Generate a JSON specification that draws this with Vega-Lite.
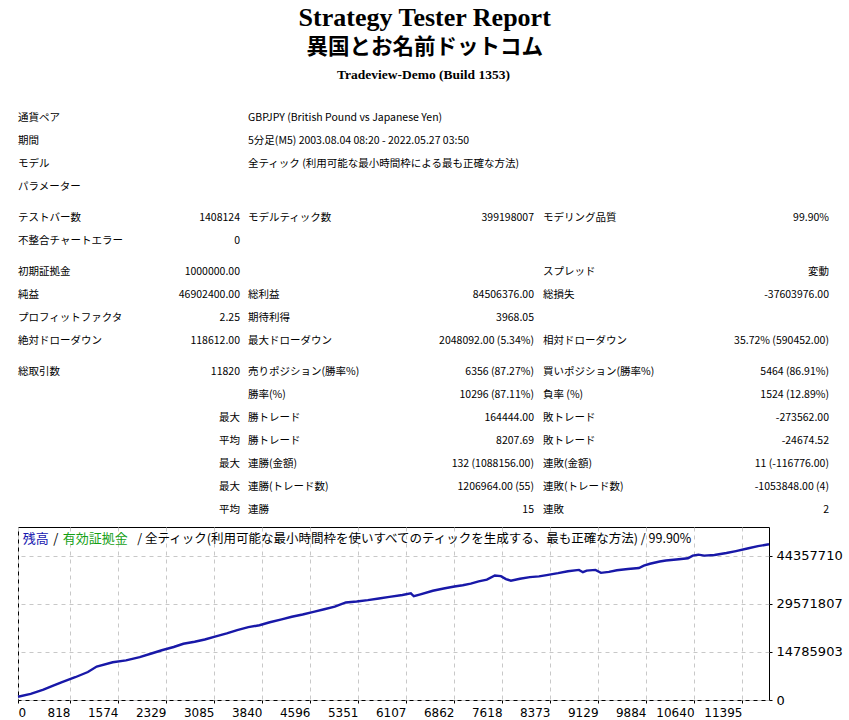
{
  "$schema": "https://vega.github.io/schema/vega-lite/v6.json",
  "background": "white",
  "padding": {"left": 12, "top": 5, "right": 4, "bottom": 0},
  "title": {
    "text": "Strategy Tester Report",
    "subtitle": "異国とお名前ドットコム",
    "font": "Liberation Serif",
    "fontSize": 26,
    "fontWeight": "bold",
    "color": "#000",
    "subtitleFont": "Noto Sans CJK JP",
    "subtitleFontSize": 21.5,
    "subtitleFontWeight": "bold",
    "subtitleColor": "#000",
    "subtitlePadding": 6,
    "anchor": "middle",
    "dx": -3,
    "offset": 9
  },
  "config": {
    "font": "Noto Sans CJK JP",
    "view": {"stroke": null},
    "concat": {"spacing": 5}
  },
  "datasets": {
    "report": [
      {"section": "A", "row": 1, "col": 0, "text": "通貨ペア"},
      {"section": "A", "row": 1, "col": 2, "text": "GBPJPY (British Pound vs Japanese Yen)"},
      {"section": "A", "row": 2, "col": 0, "text": "期間"},
      {"section": "A", "row": 2, "col": 2, "text": "5分足(M5) 2003.08.04 08:20 - 2022.05.27 03:50"},
      {"section": "A", "row": 3, "col": 0, "text": "モデル"},
      {"section": "A", "row": 3, "col": 2, "text": "全ティック (利用可能な最小時間枠による最も正確な方法)"},
      {"section": "A", "row": 4, "col": 0, "text": "パラメーター"},
      {"section": "B", "row": 5, "col": 0, "text": "テストバー数"},
      {"section": "B", "row": 5, "col": 1, "text": "1408124"},
      {"section": "B", "row": 5, "col": 2, "text": "モデルティック数"},
      {"section": "B", "row": 5, "col": 3, "text": "399198007"},
      {"section": "B", "row": 5, "col": 4, "text": "モデリング品質"},
      {"section": "B", "row": 5, "col": 5, "text": "99.90%"},
      {"section": "B", "row": 6, "col": 0, "text": "不整合チャートエラー"},
      {"section": "B", "row": 6, "col": 1, "text": "0"},
      {"section": "C", "row": 7, "col": 0, "text": "初期証拠金"},
      {"section": "C", "row": 7, "col": 1, "text": "1000000.00"},
      {"section": "C", "row": 7, "col": 4, "text": "スプレッド"},
      {"section": "C", "row": 7, "col": 5, "text": "変動"},
      {"section": "C", "row": 8, "col": 0, "text": "純益"},
      {"section": "C", "row": 8, "col": 1, "text": "46902400.00"},
      {"section": "C", "row": 8, "col": 2, "text": "総利益"},
      {"section": "C", "row": 8, "col": 3, "text": "84506376.00"},
      {"section": "C", "row": 8, "col": 4, "text": "総損失"},
      {"section": "C", "row": 8, "col": 5, "text": "-37603976.00"},
      {"section": "C", "row": 9, "col": 0, "text": "プロフィットファクタ"},
      {"section": "C", "row": 9, "col": 1, "text": "2.25"},
      {"section": "C", "row": 9, "col": 2, "text": "期待利得"},
      {"section": "C", "row": 9, "col": 3, "text": "3968.05"},
      {"section": "C", "row": 10, "col": 0, "text": "絶対ドローダウン"},
      {"section": "C", "row": 10, "col": 1, "text": "118612.00"},
      {"section": "C", "row": 10, "col": 2, "text": "最大ドローダウン"},
      {"section": "C", "row": 10, "col": 3, "text": "2048092.00 (5.34%)"},
      {"section": "C", "row": 10, "col": 4, "text": "相対ドローダウン"},
      {"section": "C", "row": 10, "col": 5, "text": "35.72% (590452.00)"},
      {"section": "D", "row": 11, "col": 0, "text": "総取引数"},
      {"section": "D", "row": 11, "col": 1, "text": "11820"},
      {"section": "D", "row": 11, "col": 2, "text": "売りポジション(勝率%)"},
      {"section": "D", "row": 11, "col": 3, "text": "6356 (87.27%)"},
      {"section": "D", "row": 11, "col": 4, "text": "買いポジション(勝率%)"},
      {"section": "D", "row": 11, "col": 5, "text": "5464 (86.91%)"},
      {"section": "D", "row": 12, "col": 2, "text": "勝率(%)"},
      {"section": "D", "row": 12, "col": 3, "text": "10296 (87.11%)"},
      {"section": "D", "row": 12, "col": 4, "text": "負率 (%)"},
      {"section": "D", "row": 12, "col": 5, "text": "1524 (12.89%)"},
      {"section": "D", "row": 13, "col": 1, "text": "最大"},
      {"section": "D", "row": 13, "col": 2, "text": "勝トレード"},
      {"section": "D", "row": 13, "col": 3, "text": "164444.00"},
      {"section": "D", "row": 13, "col": 4, "text": "敗トレード"},
      {"section": "D", "row": 13, "col": 5, "text": "-273562.00"},
      {"section": "D", "row": 14, "col": 1, "text": "平均"},
      {"section": "D", "row": 14, "col": 2, "text": "勝トレード"},
      {"section": "D", "row": 14, "col": 3, "text": "8207.69"},
      {"section": "D", "row": 14, "col": 4, "text": "敗トレード"},
      {"section": "D", "row": 14, "col": 5, "text": "-24674.52"},
      {"section": "D", "row": 15, "col": 1, "text": "最大"},
      {"section": "D", "row": 15, "col": 2, "text": "連勝(金額)"},
      {"section": "D", "row": 15, "col": 3, "text": "132 (1088156.00)"},
      {"section": "D", "row": 15, "col": 4, "text": "連敗(金額)"},
      {"section": "D", "row": 15, "col": 5, "text": "11 (-116776.00)"},
      {"section": "D", "row": 16, "col": 1, "text": "最大"},
      {"section": "D", "row": 16, "col": 2, "text": "連勝(トレード数)"},
      {"section": "D", "row": 16, "col": 3, "text": "1206964.00 (55)"},
      {"section": "D", "row": 16, "col": 4, "text": "連敗(トレード数)"},
      {"section": "D", "row": 16, "col": 5, "text": "-1053848.00 (4)"},
      {"section": "D", "row": 17, "col": 1, "text": "平均"},
      {"section": "D", "row": 17, "col": 2, "text": "連勝"},
      {"section": "D", "row": 17, "col": 3, "text": "15"},
      {"section": "D", "row": 17, "col": 4, "text": "連敗"},
      {"section": "D", "row": 17, "col": 5, "text": "2"}
    ],
    "balance": [
      {"trade": 0, "balance": 1000000},
      {"trade": 200, "balance": 1900000},
      {"trade": 400, "balance": 3200000},
      {"trade": 554, "balance": 4400000},
      {"trade": 683, "balance": 5450000},
      {"trade": 900, "balance": 7000000},
      {"trade": 1100, "balance": 8600000},
      {"trade": 1239, "balance": 10300000},
      {"trade": 1491, "balance": 11600000},
      {"trade": 1700, "balance": 12200000},
      {"trade": 1916, "balance": 13200000},
      {"trade": 2100, "balance": 14300000},
      {"trade": 2263, "balance": 15300000},
      {"trade": 2450, "balance": 16300000},
      {"trade": 2603, "balance": 17300000},
      {"trade": 2780, "balance": 17900000},
      {"trade": 2940, "balance": 18600000},
      {"trade": 3100, "balance": 19500000},
      {"trade": 3286, "balance": 20500000},
      {"trade": 3450, "balance": 21500000},
      {"trade": 3626, "balance": 22400000},
      {"trade": 3800, "balance": 23000000},
      {"trade": 3963, "balance": 23900000},
      {"trade": 4150, "balance": 24800000},
      {"trade": 4309, "balance": 25600000},
      {"trade": 4480, "balance": 26300000},
      {"trade": 4651, "balance": 27100000},
      {"trade": 4820, "balance": 27900000},
      {"trade": 4986, "balance": 28700000},
      {"trade": 5160, "balance": 30000000},
      {"trade": 5330, "balance": 30300000},
      {"trade": 5506, "balance": 30700000},
      {"trade": 5680, "balance": 31200000},
      {"trade": 5846, "balance": 31700000},
      {"trade": 6050, "balance": 32300000},
      {"trade": 6183, "balance": 32800000},
      {"trade": 6230, "balance": 31900000},
      {"trade": 6320, "balance": 32400000},
      {"trade": 6529, "balance": 33600000},
      {"trade": 6700, "balance": 34300000},
      {"trade": 6869, "balance": 34900000},
      {"trade": 7000, "balance": 35300000},
      {"trade": 7126, "balance": 35800000},
      {"trade": 7250, "balance": 36500000},
      {"trade": 7380, "balance": 37000000},
      {"trade": 7505, "balance": 38300000},
      {"trade": 7600, "balance": 38100000},
      {"trade": 7680, "balance": 37200000},
      {"trade": 7757, "balance": 36700000},
      {"trade": 7900, "balance": 37300000},
      {"trade": 8056, "balance": 37800000},
      {"trade": 8200, "balance": 38000000},
      {"trade": 8320, "balance": 38400000},
      {"trade": 8500, "balance": 39000000},
      {"trade": 8655, "balance": 39600000},
      {"trade": 8829, "balance": 40000000},
      {"trade": 8891, "balance": 39300000},
      {"trade": 8950, "balance": 39800000},
      {"trade": 9088, "balance": 40000000},
      {"trade": 9175, "balance": 39100000},
      {"trade": 9300, "balance": 39400000},
      {"trade": 9426, "balance": 39900000},
      {"trade": 9600, "balance": 40300000},
      {"trade": 9773, "balance": 40600000},
      {"trade": 9850, "balance": 41300000},
      {"trade": 9946, "balance": 41900000},
      {"trade": 10100, "balance": 42600000},
      {"trade": 10198, "balance": 42900000},
      {"trade": 10400, "balance": 43300000},
      {"trade": 10544, "balance": 43600000},
      {"trade": 10620, "balance": 44400000},
      {"trade": 10710, "balance": 44700000},
      {"trade": 10800, "balance": 44400000},
      {"trade": 10962, "balance": 44600000},
      {"trade": 11150, "balance": 45200000},
      {"trade": 11300, "balance": 45800000},
      {"trade": 11480, "balance": 46600000},
      {"trade": 11646, "balance": 47300000},
      {"trade": 11820, "balance": 47902400}
    ]
  },
  "vconcat": [
    {
      "data": {"name": "report"},
      "title": {
        "text": "Tradeview-Demo (Build 1353)",
        "font": "Liberation Serif",
        "fontSize": 13.5,
        "fontWeight": "bold",
        "color": "#000",
        "anchor": "middle",
        "offset": 25
      },
      "facet": {"row": {"field": "section", "type": "nominal", "header": null}},
      "spacing": 8,
      "resolve": {"scale": {"y": "independent"}},
      "spec": {
        "width": 811,
        "height": {"step": 23},
        "encoding": {
          "x": {
            "field": "col",
            "type": "quantitative",
            "axis": null,
            "scale": {"domain": [0, 1, 2, 3, 4, 5], "range": [0, 222, 230, 516, 525, 811], "nice": false, "zero": false}
          },
          "y": {"field": "row", "type": "ordinal", "axis": null},
          "text": {"field": "text"}
        },
        "layer": [
          {
            "transform": [{"filter": "datum.col % 2 == 0"}],
            "mark": {"type": "text", "align": "left", "baseline": "middle", "fontSize": 10.5, "font": "Noto Sans CJK JP", "color": "#000"}
          },
          {
            "transform": [{"filter": "datum.col % 2 == 1"}],
            "mark": {"type": "text", "align": "right", "baseline": "middle", "fontSize": 10.5, "font": "Noto Sans CJK JP", "color": "#000"}
          }
        ]
      }
    },
    {
      "width": 751,
      "height": 173,
      "view": {"stroke": "#000", "strokeWidth": 1},
      "layer": [
        {
          "data": {"name": "balance"},
          "mark": {"type": "line", "color": "#1818a8", "strokeWidth": 2.4},
          "encoding": {
            "x": {
              "field": "trade",
              "type": "quantitative",
              "scale": {"domain": [0, 11820], "nice": false, "zero": false},
              "axis": {
                "orient": "bottom",
                "title": null,
                "values": [0, 818, 1574, 2329, 3085, 3840, 4596, 5351, 6107, 6862, 7618, 8373, 9129, 9884, 10640, 11395],
                "format": "d",
                "grid": true,
                "gridDash": [4, 4],
                "gridColor": "#c8c8c8",
                "gridWidth": 1,
                "domain": false,
                "ticks": true,
                "tickSize": 3,
                "tickColor": "#000",
                "labelFont": "DejaVu Sans",
                "labelFontSize": 12,
                "labelColor": "#000",
                "labelAlign": {"condition": {"test": "datum.value == 0", "value": "left"}, "value": "right"},
                "labelBaseline": "top",
                "labelPadding": 4,
                "labelFlush": false,
                "labelOverlap": false
              }
            },
            "y": {
              "field": "balance",
              "type": "quantitative",
              "scale": {"domain": [0, 53200000], "nice": false, "zero": true},
              "axis": {
                "orient": "right",
                "title": null,
                "values": [0, 14785903, 29571807, 44357710],
                "format": "d",
                "grid": true,
                "gridDash": [4, 4],
                "gridColor": "#c8c8c8",
                "gridWidth": 1,
                "domain": false,
                "ticks": true,
                "tickSize": 3,
                "tickColor": "#000",
                "labelFont": "DejaVu Sans",
                "labelFontSize": 13,
                "labelColor": "#000",
                "labelAlign": "left",
                "labelBaseline": "middle",
                "labelPadding": 4,
                "labelFlush": false,
                "labelOverlap": false
              }
            }
          }
        },
        {
          "data": {"values": [{}]},
          "mark": {"type": "text", "text": "残高", "align": "left", "baseline": "middle", "fontSize": 13, "font": "Noto Sans CJK JP", "color": "#1818b0"},
          "encoding": {"x": {"datum": 74}, "y": {"datum": 49500000}}
        },
        {
          "data": {"values": [{}]},
          "mark": {"type": "text", "text": "/", "align": "left", "baseline": "middle", "fontSize": 13, "font": "Noto Sans CJK JP", "color": "#000"},
          "encoding": {"x": {"datum": 555}, "y": {"datum": 49500000}}
        },
        {
          "data": {"values": [{}]},
          "mark": {"type": "text", "text": "有効証拠金", "align": "left", "baseline": "middle", "fontSize": 13, "font": "Noto Sans CJK JP", "color": "#14a014"},
          "encoding": {"x": {"datum": 704}, "y": {"datum": 49500000}}
        },
        {
          "data": {"values": [{}]},
          "mark": {"type": "text", "text": "/ 全ティック(利用可能な最小時間枠を使いすべてのティックを生成する、最も正確な方法) / 99.90%", "align": "left", "baseline": "middle", "fontSize": 12.5, "font": "Noto Sans CJK JP", "color": "#000"},
          "encoding": {"x": {"datum": 1877}, "y": {"datum": 49500000}}
        }
      ]
    }
  ]
}
